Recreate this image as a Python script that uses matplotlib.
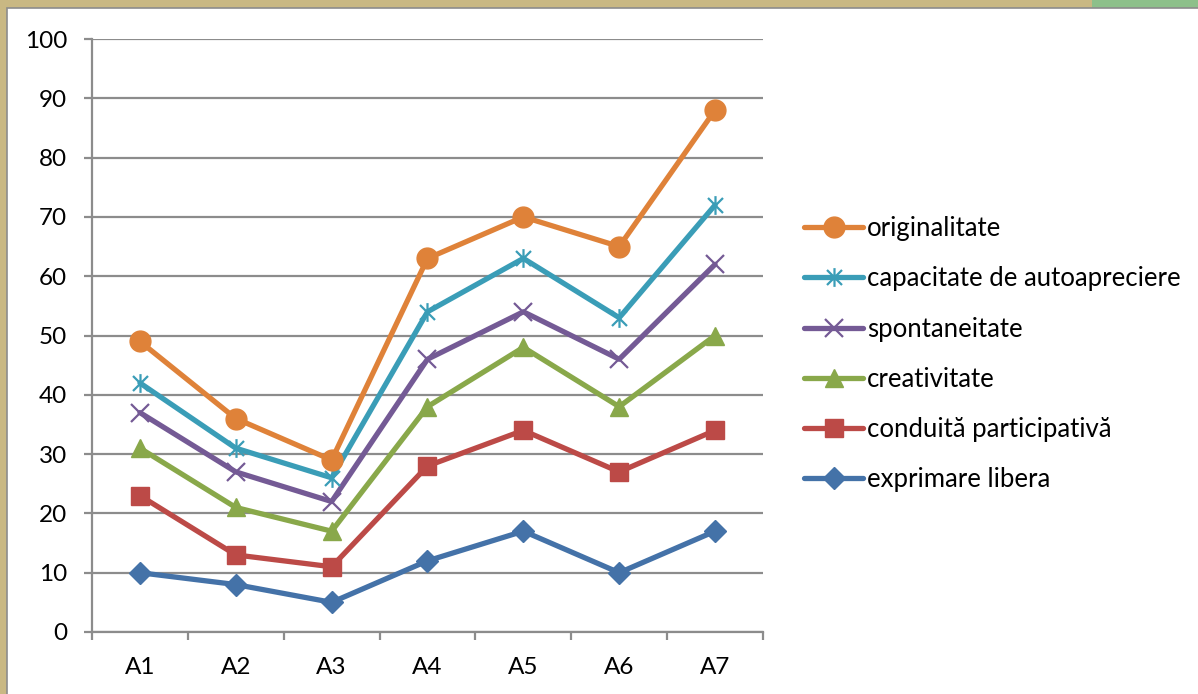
import matplotlib
matplotlib.use("Agg")
import matplotlib.pyplot as plt
import matplotlib.patches as mpatches
from matplotlib.path import Path

plt.rcParams['font.family'] = ['Lato', 'DejaVu Sans']

categories = ["A1", "A2", "A3", "A4", "A5", "A6", "A7"]

exprimare = [10, 8, 5, 12, 17, 10, 17]
conduita = [23, 13, 11, 28, 34, 27, 34]
creativitate = [31, 21, 17, 38, 48, 38, 50]
spontaneitate = [37, 27, 22, 46, 54, 46, 62]
capacitate = [42, 31, 26, 54, 63, 53, 72]
originalitate = [49, 36, 29, 63, 70, 65, 88]

labels = ["exprimare libera", "conduită participativă", "creativitate",
          "spontaneitate", "capacitate de autoapreciere", "originalitate"]

# Excel-style asterisk marker
star = Path([(-1, -1), (1, 1), (-1, 1), (1, -1), (0, -1.25), (0, 1.25)],
            [Path.MOVETO, Path.LINETO, Path.MOVETO, Path.LINETO, Path.MOVETO, Path.LINETO])

styles = [
    dict(color="#4472A8", marker="D", ms=11.5),
    dict(color="#BC4A47", marker="s", ms=12.5),
    dict(color="#89A84A", marker="^", ms=13.5),
    dict(color="#745A95", marker="x", ms=12.5, mew=1.6),
    dict(color="#3A9DB7", marker=star, ms=13.5, mew=1.6),
    dict(color="#DF8239", marker="o", ms=15),
]
series = [exprimare, conduita, creativitate, spontaneitate, capacitate, originalitate]

W, H = 1198, 694
fig = plt.figure(figsize=(W / 100, H / 100), dpi=100)
fig.patch.set_facecolor("#C9B883")
fig.patches.append(mpatches.Rectangle((1092 / W, 1 - 8 / H), 1, 8 / H, transform=fig.transFigure,
                                      facecolor="#8DC08A", edgecolor="none", zorder=0))
fig.patches.append(mpatches.Rectangle((7 / W, -0.01), 1, 1 - 8 / H + 0.01, transform=fig.transFigure,
                                      facecolor="white", edgecolor="#8C8C8C", linewidth=1.2, zorder=0.5))

ax = fig.add_axes([92 / W, 1 - 632 / H, (763 - 92) / W, (632 - 39) / H])
ax.set_zorder(2)
ax.set_facecolor("none")

x = list(range(1, len(categories) + 1))
handles = []
for vals, lab, st in zip(series, labels, styles):
    ln, = ax.plot(x, vals, color=st["color"], lw=3.8, marker=st["marker"], ms=st["ms"],
                  mew=st.get("mew", 1), mec=st["color"], mfc=st["color"], label=lab,
                  solid_capstyle="round", zorder=3)
    handles.append(ln)

ax.set_xlim(0.5, len(categories) + 0.5)
ax.set_ylim(0, 100)
ax.set_yticks(range(0, 101, 10))
ax.set_xticks(x)
ax.set_xticklabels(categories)
ax.set_xticks([i + 0.5 for i in range(len(categories) + 1)], minor=True)
ax.yaxis.grid(True, color="#8C8C8C", lw=1.6)
ax.set_axisbelow(True)

for s in ["top", "right"]:
    ax.spines[s].set_visible(False)
for s in ["left", "bottom"]:
    ax.spines[s].set_color("#8C8C8C")
    ax.spines[s].set_linewidth(1.6)

ax.tick_params(axis="y", length=6, width=1.6, color="#8C8C8C", pad=12, labelsize=17.5)
ax.tick_params(axis="x", which="major", length=0, pad=18, labelsize=17.5)
ax.tick_params(axis="x", which="minor", length=6, width=1.6, color="#8C8C8C")

leg = fig.legend(handles=handles[::-1], loc="upper left",
                 bbox_to_anchor=(794 / W, 1 - 206 / H), frameon=False,
                 fontsize=18.5, handlelength=2.3, handletextpad=0.15,
                 labelspacing=0.98, borderaxespad=0)
leg.set_zorder(3)

fig.savefig("out.png", dpi=100, facecolor=fig.get_facecolor())
